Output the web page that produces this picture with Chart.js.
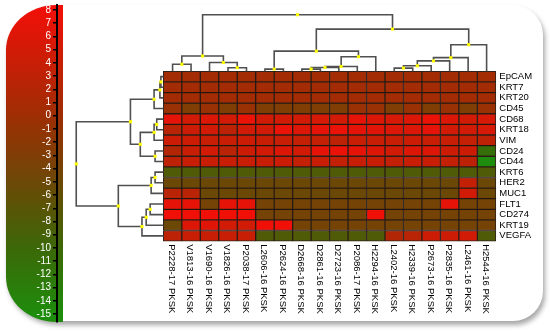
<!DOCTYPE html>
<html>
<head>
<meta charset="utf-8">
<script src="https://cdn.jsdelivr.net/npm/chart.js@4.4.1/dist/chart.umd.min.js"></script>
<style>
  body { margin: 0; background: #fff; }
  #wrap { position: relative; width: 550px; height: 332px; overflow: hidden; }
  #card { position: absolute; left: 6px; top: 5px; width: 537px; height: 316px; background: #fff;
          border-radius: 50px 30px 30px 50px / 45px 30px 30px 45px;
          box-shadow: 2px 4px 5px rgba(0,0,0,0.35); }
  #bar { position: absolute; left: 6px; top: 5px; width: 57px; height: 317px;
         border-radius: 50px 0 0 50px / 45px 0 0 45px; }
  #scaleCanvas { position: absolute; left: 0; top: -40px; }
  #heatCanvas { position: absolute; left: 0; top: 0; }
</style>
</head>
<body>
<div id="wrap">
  <div id="card"></div>
  <div id="bar"></div>
  <canvas id="scaleCanvas" width="64" height="412"></canvas>
  <canvas id="heatCanvas" width="550" height="332"></canvas>
</div>
<script>
// rows (genes) and columns (samples) in dendrogram order
const genes = ['EpCAM', 'KRT7', 'KRT20', 'CD45', 'CD68', 'KRT18', 'VIM', 'CD24', 'CD44',
  'KRT6', 'HER2', 'MUC1', 'FLT1', 'CD274', 'KRT19', 'VEGFA'];
const samples = ['P2228-17 PKSK', 'V1813-16 PKSK', 'V1690-16 PKSK', 'V1826-16 PKSK', 'P2038-17 PKSK',
  'L2606-16 PKSK', 'P2624-16 PKSK', 'D2668-16 PKSK', 'D2861-16 PKSK', 'D2723-16 PKSK',
  'P2086-17 PKSK', 'H2294-16 PKSK', 'L2402-16 PKSK', 'H2339-16 PKSK', 'P2673-16 PKSK',
  'P2835-16 PKSK', 'L2461-16 PKSK', 'H2544-16 PKSK'];

// expression values per gene (one entry per sample)
const EpCAM = [0.5, 0.5, 0.5, 0.5, 0.5, 0.5, 0.5, 0.5, 0.5, 0.5, 0.5, 0.5, 0.5, 0.5, 0.5, 0.5, 0.5, 0.5];
const KRT7  = [0.5, 0.5, 0.5, 0.5, 0.5, 0.5, 0.5, 0.5, 0.5, 0.5, 0.5, 0.5, 0.5, 0.5, 0.5, 0.5, 0.5, 0.5];
const KRT20 = [0.5, 0.5, 0.5, 0.5, 0.5, 0.5, 0.5, 0.5, 0.5, 0.5, 0.5, 0.5, 0.5, 0.5, 0.5, 0.5, 0.5, 0.5];
const CD45  = [-0.5, -3, -0.5, -3, -0.5, -3, -3, -3, -3, -3, -0.5, -0.5, -3, -0.5, -3, -0.5, -3, -0.5];
const CD68  = [7, 5, 6, 5, 7.5, 5, 5, 5, 5.5, 5, 7, 6, 5.5, 6, 7.5, 6, 5, 5.5];
const KRT18 = [2.5, 4.5, 5, 3, 5, 5, 7.5, 6, 7, 7.5, 7, 6.5, 6, 6, 7, 5, 5, 5.5];
const VIM   = [4.5, 4.5, 4, 4, 4.5, 4, 4, 3.5, 3.5, 3, 4, 4, 4, 4.5, 4, 4, 3.5, 3];
const CD24  = [2, 4, 5, 2.5, 4.5, 5, 6, 5, 7, 7.5, 7, 6, 5, 6, 6, 4.5, 4.5, -11];
const CD44  = [3, 4, 4, 4, 4, 4, 4.5, 3.5, 4, 3.5, 4, 4, 3.5, 4, 4, 3.5, 3, -15];
const KRT6  = [-8, -8, -8, -8, -8, -8, -8, -8, -8, -8, -8, -8, -8, -8, -8, -8, -8, -8];
const HER2  = [-5, -5, -5, -5, -5, -5, -5, -5, -5, -5, -5, -5, -5, -5, -5, -5, 3.5, -5];
const MUC1  = [2.5, 2.5, -5, -5, -5, -5, -5, -5, -5, -5, -5, -5, -5, -5, -5, -5, 5, -5];
const FLT1  = [7, 7, -4, 7, 7, -4, -4, -4, -4, -4, -4, -4, -4, -4, -4, 7, -4, -4];
const CD274 = [8, 8, 8, 8, 8, -4, -4, -4, -4, -4, -4, 8, -4, -4, -4, -4, -4, -4];
const KRT19 = [-5, 6, 6.5, 5, 5, 8, 8, -4, -4, -4, -4, -4, -4, -4, -4, -4, -4, -4];
const VEGFA = [3, 4, 4, 4, 4, -8, -8, -8, -8, -8, -8, -8, 2, 2.5, 4.5, 4.5, 5, -8];
const matrix = [EpCAM, KRT7, KRT20, CD45, CD68, KRT18, VIM, CD24, CD44, KRT6, HER2, MUC1, FLT1, CD274, KRT19, VEGFA];

// column dendrogram: merge a + b at height h (leaves 0..17, new nodes 18..)
const colMergeA = [0, 3, 2, 18, 5, 7, 23, 24, 25, 22, 12, 28, 29, 30, 31, 27, 21];
const colMergeB = [1, 4, 19, 20, 6, 8, 9, 10, 11, 26, 13, 14, 15, 16, 17, 32, 33];
const colMergeH = [7.3, 3.7, 9, 15.7, 2.3, 2.3, 4, 5, 15, 20.7, 3.3, 5.7, 10.7, 14, 27.3, 43.3, 58];
// row dendrogram: leaves 0..15, new nodes 16..
const rowMergeA = [0, 16, 17, 4, 19, 7, 20, 18, 9, 24, 12, 26, 27, 25, 23];
const rowMergeB = [1, 2, 3, 5, 6, 8, 21, 22, 10, 11, 13, 14, 15, 28, 29];
const rowMergeH = [2.5, 3.5, 9.4, 6.7, 9.4, 8.4, 23.4, 33.4, 8.4, 12.4, 13.4, 17.4, 21.7, 45.7, 88.4];

// colour scale (value -> rgb)
const stopValues = [-15, -10, -5, 0, 4, 8];
const stopColors = [[30, 140, 12], [60, 104, 8], [108, 72, 6], [158, 46, 4], [200, 30, 6], [240, 16, 8]];

function colorFor(v) {
  if (v <= stopValues[0]) return 'rgb(' + stopColors[0] + ')';
  for (let k = 1; k < stopValues.length; k++) {
    if (v <= stopValues[k]) {
      const t = (v - stopValues[k - 1]) / (stopValues[k] - stopValues[k - 1]);
      const c = stopColors[k - 1].map((c0, j) => Math.round(c0 + t * (stopColors[k][j] - c0)));
      return 'rgb(' + c + ')';
    }
  }
  return 'rgb(' + stopColors[stopColors.length - 1] + ')';
}

function buildTree(nLeaves, A, B, H) {
  const pos = [], hgt = [], links = [], nodes = [];
  for (let i = 0; i < nLeaves; i++) { pos.push(i + 0.5); hgt.push(0); }
  A.forEach((a, k) => {
    const b = B[k], h = H[k];
    links.push([[pos[a], hgt[a]], [pos[a], h], [pos[b], h], [pos[b], hgt[b]]]);
    const p = (pos[a] + pos[b]) / 2;
    pos.push(p); hgt.push(h);
    nodes.push([p, h]);
  });
  return { links, nodes };
}

const colTree = buildTree(samples.length, colMergeA, colMergeB, colMergeH);
const rowTree = buildTree(genes.length, rowMergeA, rowMergeB, rowMergeH);

// heatmap box inside the 550x332 canvas; the chart area is the whole canvas
const W = 550, H = 332;
const heatLeft = 161.7, heatRight = 499.1, heatTop = 69, heatBottom = 243;
const colW = (heatRight - heatLeft) / samples.length;
const rowH = (heatBottom - heatTop) / genes.length;

const lineColor = '#505050';
const datasets = [];

// yellow node markers
datasets.push({
  type: 'scatter', data: colTree.nodes.map(([p, h]) => ({ x: p, y: h })),
  xAxisID: 'x', yAxisID: 'dt', pointStyle: 'rect', pointRadius: 2.2,
  backgroundColor: '#ffff00', borderWidth: 0, order: -2
});
datasets.push({
  type: 'scatter', data: rowTree.nodes.map(([p, h]) => ({ x: h, y: p })),
  xAxisID: 'dl', yAxisID: 'y', pointStyle: 'rect', pointRadius: 2.2,
  backgroundColor: '#ffff00', borderWidth: 0, order: -2
});

// dendrogram links
colTree.links.forEach(l => datasets.push({
  type: 'scatter', showLine: true, data: l.map(([p, h]) => ({ x: p, y: h })),
  xAxisID: 'x', yAxisID: 'dt', borderColor: lineColor, borderWidth: 1.6,
  pointRadius: 0, order: -1
}));
rowTree.links.forEach(l => datasets.push({
  type: 'scatter', showLine: true, data: l.map(([p, h]) => ({ x: h, y: p })),
  xAxisID: 'dl', yAxisID: 'y', borderColor: lineColor, borderWidth: 1.6,
  pointRadius: 0, order: -1
}));

// heatmap cells, one floating-bar dataset per gene
genes.forEach((g, r) => datasets.push({
  type: 'bar', label: g,
  data: samples.map((s, i) => ({ x: i + 0.5, y: [r, r + 1] })),
  backgroundColor: matrix[r].map(colorFor),
  borderColor: 'rgba(25,10,0,0.9)', borderWidth: 1, borderSkipped: false,
  grouped: false, barPercentage: 1, categoryPercentage: 1,
  xAxisID: 'x', yAxisID: 'y', order: 0
}));

const labelPlugin = {
  id: 'heatLabels',
  afterDraw(chart) {
    const { ctx } = chart;
    const x = chart.scales.x, y = chart.scales.y;
    const right = x.getPixelForValue(samples.length);
    const bottom = y.getPixelForValue(genes.length);
    ctx.save();
    ctx.fillStyle = '#000';
    ctx.font = '9.5px "Liberation Sans", Arial, sans-serif';
    ctx.textBaseline = 'middle';
    ctx.textAlign = 'left';
    genes.forEach((g, r) => ctx.fillText(g, right + 3.5, y.getPixelForValue(r + 0.5)));
    samples.forEach((s, i) => {
      ctx.save();
      ctx.translate(x.getPixelForValue(i + 0.5) - 1, bottom + 3);
      ctx.rotate(Math.PI / 2);
      ctx.fillText(s, 0, 0);
      ctx.restore();
    });
    ctx.restore();
  }
};

const heatChart = new Chart(document.getElementById('heatCanvas'), {
  type: 'bar',
  data: { datasets },
  options: {
    responsive: false,
    animation: false,
    events: [],
    layout: { padding: 0 },
    plugins: { legend: { display: false }, tooltip: { enabled: false } },
    scales: {
      // column index scale
      x: { type: 'linear', min: -heatLeft / colW, max: (W - heatLeft) / colW, offset: false, display: false,
           ticks: { stepSize: 1, includeBounds: false } },
      // row index scale (top to bottom)
      y: { type: 'linear', min: -heatTop / rowH, max: (H - heatTop) / rowH, reverse: true, offset: false, display: false,
           ticks: { stepSize: 1, includeBounds: false } },
      // column-tree height, measured up from the heatmap top
      dt: { type: 'linear', axis: 'y', position: 'left', min: heatTop - H, max: heatTop, offset: false, display: false },
      // row-tree height, measured left from the heatmap edge
      dl: { type: 'linear', axis: 'x', position: 'bottom', min: heatLeft - W, max: heatLeft, reverse: true, offset: false, display: false }
    }
  },
  plugins: [labelPlugin]
});

// colour key axis on the left (canvas is shifted 40px up)
const canvasOffset = 40, barTop = 5, barBottom = 322;
const keyTopVal = 8, keyBottomVal = -15, keyTopPx = 10, keyBottomPx = 314;
const keyUnit = (keyBottomPx - keyTopPx) / (keyTopVal - keyBottomVal);
const scaleChart = new Chart(document.getElementById('scaleCanvas'), {
  type: 'scatter',
  data: { datasets: [] },
  options: {
    responsive: false,
    animation: false,
    events: [],
    layout: { padding: { top: canvasOffset + barTop, bottom: 412 - canvasOffset - barBottom, left: 0, right: 0 } },
    plugins: { legend: { display: false }, tooltip: { enabled: false } },
    scales: {
      x: { display: false },
      y: {
        type: 'linear', position: 'left',
        min: keyBottomVal - (barBottom - keyBottomPx) / keyUnit,
        max: keyTopVal + (keyTopPx - barTop) / keyUnit,
        afterFit: s => { s.width = 57; },
        afterBuildTicks: s => { s.ticks = s.ticks.filter(t => t.value >= keyBottomVal && t.value <= keyTopVal); },
        ticks: { stepSize: 1, includeBounds: false, autoSkip: false, color: '#fff', padding: 2,
                 font: { family: '"Liberation Sans", Arial, sans-serif', size: 10 } },
        grid: { drawOnChartArea: false, tickLength: 4, color: '#000', lineWidth: 1.5 },
        border: { display: true, color: '#000', width: 2 }
      }
    }
  }
});

// gradient behind the key, placed with the key's own scale
const ys = scaleChart.scales.y;
const barH = barBottom - barTop;
const grad = stopValues.map((v, k) => {
  const py = ys.getPixelForValue(v) - canvasOffset - barTop;
  return 'rgb(' + stopColors[k] + ') ' + (py / barH * 100).toFixed(2) + '%';
}).reverse();
document.getElementById('bar').style.background = 'linear-gradient(to bottom, ' + grad.join(', ') + ')';
</script>
</body>
</html>
